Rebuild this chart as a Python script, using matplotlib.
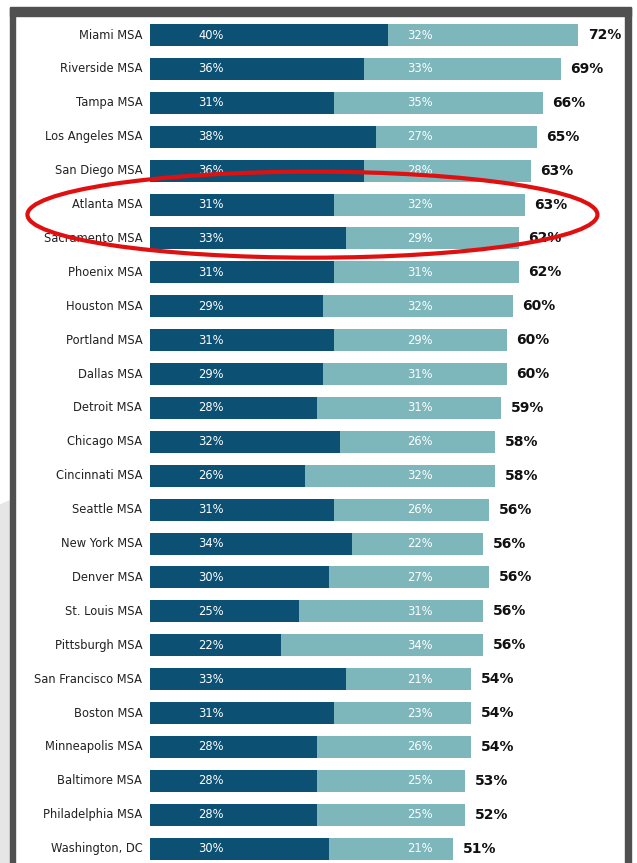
import matplotlib.pyplot as plt
from matplotlib.patches import Ellipse, Rectangle, Polygon

# 数据
cities = ['Miami MSA', 'Riverside MSA', 'Tampa MSA', 'Los Angeles MSA', 'San Diego MSA',
          'Atlanta MSA', 'Sacramento MSA', 'Phoenix MSA', 'Houston MSA', 'Portland MSA',
          'Dallas MSA', 'Detroit MSA', 'Chicago MSA', 'Cincinnati MSA', 'Seattle MSA',
          'New York MSA', 'Denver MSA', 'St. Louis MSA', 'Pittsburgh MSA', 'San Francisco MSA',
          'Boston MSA', 'Minneapolis MSA', 'Baltimore MSA', 'Philadelphia MSA', 'Washington, DC']
dark_vals = [40, 36, 31, 38, 36, 31, 33, 31, 29, 31, 29, 28, 32, 26, 31,
             34, 30, 25, 22, 33, 31, 28, 28, 28, 30]
light_vals = [32, 33, 35, 27, 28, 32, 29, 31, 32, 29, 31, 31, 26, 32, 26,
              22, 27, 31, 34, 21, 23, 26, 25, 25, 21]
totals = [72, 69, 66, 65, 63, 63, 62, 62, 60, 60, 60, 59, 58, 58, 56,
          56, 56, 56, 56, 54, 54, 54, 53, 52, 51]

DARK = '#0c5173'
LIGHT = '#7db7bc'
W, H = 637, 863
px_per = 5.95      # 每个百分点对应的像素
x0_px = 150
row0_px, row_step = 35, 33.9

fig = plt.figure(figsize=(W / 100, H / 100), dpi=100)
fig.patch.set_facecolor('white')

# 左侧浅灰背景块
fig.add_artist(Polygon([(0, 0), (12 / W, 0), (12 / W, 1 - 500 / H), (0, 1 - 505 / H)],
                       closed=True, transform=fig.transFigure, color='#e6e6e6', zorder=0))

ax = fig.add_axes([0, 0, 1, 1])
ax.set_facecolor('none')
ax.set_xlim(-x0_px / px_per, (W - x0_px) / px_per)
ax.set_ylim((H - row0_px) / row_step, -row0_px / row_step)
ax.axis('off')

y = list(range(len(cities)))
bh = 22 / row_step
ax.barh(y, dark_vals, height=bh, color=DARK)
ax.barh(y, light_vals, left=dark_vals, height=bh, color=LIGHT)

for i, name in enumerate(cities):
    ax.text(-1.3, i, name, ha='right', va='center', fontsize=8.3,
            family='Liberation Sans Narrow', color='#222222')
    ax.text(10.3, i, f'{dark_vals[i]}%', ha='center', va='center', fontsize=8.3,
            family='Liberation Sans Narrow', color='white')
    ax.text(45.4, i, f'{light_vals[i]}%', ha='center', va='center', fontsize=8.3,
            family='Liberation Sans Narrow', color='white')
    ax.text(dark_vals[i] + light_vals[i] + 1.6, i, f'{totals[i]}%', ha='left',
            va='center', fontsize=10, fontweight='bold', color='#111111')

# 红色椭圆标注 Atlanta / Sacramento
ax.add_patch(Ellipse((27.3, 5.3), 570 / px_per, 86 / row_step, fill=False,
                     edgecolor='#e01010', linewidth=3, zorder=5))

# 深灰色外框
frame = '#505050'
fig.add_artist(Rectangle((10 / W, 1 - 16 / H), 621 / W, 9 / H,
                         transform=fig.transFigure, color=frame, zorder=6))
fig.add_artist(Rectangle((10 / W, 0), 5 / W, 1 - 8 / H,
                         transform=fig.transFigure, color=frame, zorder=6))
fig.add_artist(Rectangle((625 / W, 0), 6 / W, 1 - 8 / H,
                         transform=fig.transFigure, color=frame, zorder=6))

fig.savefig('out.png', dpi=100)
